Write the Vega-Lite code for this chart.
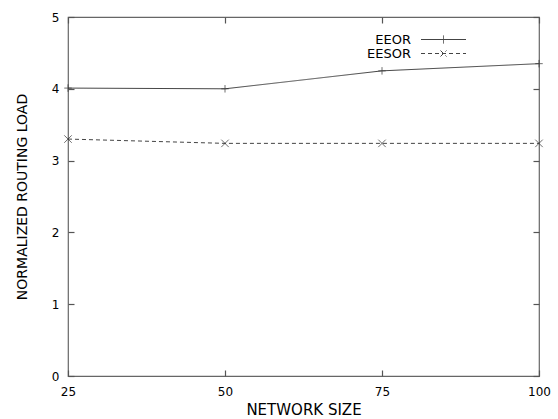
{
  "$schema": "https://vega.github.io/schema/vega-lite/v6.json",
  "width": 471,
  "height": 359,
  "autosize": {"type": "none"},
  "padding": {"left": 68, "top": 17, "right": 19, "bottom": 43},
  "background": "white",
  "config": {
    "view": {"stroke": "#666", "strokeWidth": 1.2},
    "font": "DejaVu Sans",
    "axis": {
      "domain": false,
      "grid": false,
      "labelFont": "DejaVu Sans",
      "labelFontSize": 12,
      "labelColor": "#000",
      "ticks": true,
      "tickColor": "#555",
      "tickWidth": 1.2,
      "tickSize": 6,
      "offset": -6,
      "titleFont": "DejaVu Sans",
      "titleFontWeight": "normal",
      "titleColor": "#000"
    }
  },
  "data": {
    "values": [
      {"size": 25, "load": 4.01, "series": "EEOR"},
      {"size": 50, "load": 4.0, "series": "EEOR"},
      {"size": 75, "load": 4.25, "series": "EEOR"},
      {"size": 100, "load": 4.35, "series": "EEOR"},
      {"size": 25, "load": 3.3, "series": "EESOR"},
      {"size": 50, "load": 3.24, "series": "EESOR"},
      {"size": 75, "load": 3.24, "series": "EESOR"},
      {"size": 100, "load": 3.24, "series": "EESOR"}
    ]
  },
  "layer": [
    {
      "mark": {"type": "line", "color": "#444", "strokeWidth": 1},
      "encoding": {
        "x": {
          "field": "size", "type": "quantitative",
          "scale": {"domain": [25, 100], "nice": false, "zero": false},
          "axis": {"orient": "bottom", "values": [25, 50, 75, 100], "title": "NETWORK SIZE", "titleFontSize": 15, "labelPadding": 10, "titlePadding": 5, "labelFlush": false}
        },
        "y": {
          "field": "load", "type": "quantitative",
          "scale": {"domain": [0, 5], "nice": false},
          "axis": {"orient": "left", "values": [0, 1, 2, 3, 4, 5], "title": "NORMALIZED ROUTING LOAD", "titleFontSize": 14, "labelPadding": 9, "titlePadding": 22}
        },
        "strokeDash": {
          "field": "series", "type": "nominal",
          "scale": {"domain": ["EEOR", "EESOR"], "range": [[1, 0], [4, 3]]},
          "legend": {
            "orient": "none",
            "legendX": 369,
            "legendY": 16,
            "title": null,
            "padding": 0,
            "rowPadding": 0,
            "labelAlign": "right",
            "labelOffset": -39,
            "labelFont": "DejaVu Sans",
            "labelFontSize": 13,
            "labelColor": "#000",
            "symbolSize": 100,
            "symbolStrokeColor": "#444",
            "symbolStrokeWidth": 1,
            "symbolFillColor": "transparent",
            "encode": {
              "symbols": {
                "update": {
                  "shape": {"signal": "datum.value == 'EEOR' ? 'M-4.5,0H4.5M0,-0.8V0.8' : 'M-4.5,0H4.5M-0.6,-0.6L0.6,0.6M-0.6,0.6L0.6,-0.6'"}
                }
              }
            }
          }
        }
      }
    },
    {
      "mark": {"type": "point", "filled": false, "stroke": "#333", "strokeWidth": 1, "size": 56},
      "encoding": {
        "x": {
          "field": "size", "type": "quantitative",
          "scale": {"domain": [25, 100], "nice": false, "zero": false},
          "axis": {"orient": "top", "values": [25, 50, 75, 100], "labels": false, "title": null}
        },
        "y": {
          "field": "load", "type": "quantitative",
          "scale": {"domain": [0, 5], "nice": false},
          "axis": {"orient": "right", "values": [0, 1, 2, 3, 4, 5], "labels": false, "title": null}
        },
        "shape": {
          "condition": {"test": "datum.series == 'EEOR'", "value": "M0,-1V1M-1,0H1"},
          "value": "M-1,-1L1,1M-1,1L1,-1"
        }
      }
    }
  ],
  "resolve": {"axis": {"x": "independent", "y": "independent"}}
}
